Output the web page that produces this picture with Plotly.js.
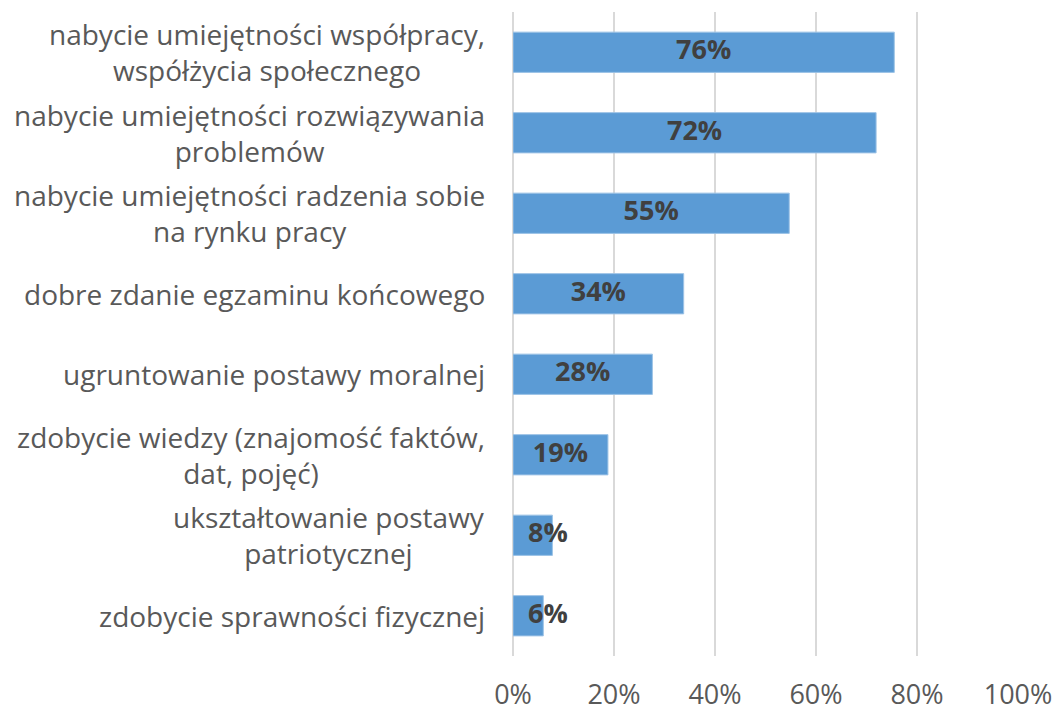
<!DOCTYPE html>
<html>
<head>
<meta charset="utf-8">
<script src="https://cdn.plot.ly/plotly-3.0.1.min.js"></script>
<style>
html,body{margin:0;padding:0;background:#fff;}
#chart{width:1056px;height:714px;}
</style>
</head>
<body>
<div id="chart"></div>
<script>
// Data
var categories = [
  "nabycie umiejętności współpracy,<br>współżycia społecznego",
  "nabycie umiejętności rozwiązywania<br>problemów",
  "nabycie umiejętności radzenia sobie<br>na rynku pracy",
  "dobre zdanie egzaminu końcowego",
  "ugruntowanie postawy moralnej",
  "zdobycie wiedzy (znajomość faktów,<br>dat, pojęć)",
  "ukształtowanie postawy<br>patriotycznej",
  "zdobycie sprawności fizycznej"
];
var values = [75.5, 71.9, 54.7, 33.8, 27.6, 18.8, 7.8, 6.0];
var tickValues = [0, 20, 40, 60, 80, 100];
var tickLabels = ["0%", "20%", "40%", "60%", "80%", "100%"];

var catIdx = categories.map(function(c, i){ return i; });
var labelText = values.map(function(v){ return Math.round(v) + "%"; });
// label sits in the middle of the bar, but never closer to the axis than a fixed minimum
var labelX = values.map(function(v){ return Math.max(v / 2, 6.9); });

var bars = {
  type: "bar",
  orientation: "h",
  x: values,
  y: catIdx,
  marker: {color: "#5B9BD5", line: {color: "#9DC3E6", width: 1}},
  hoverinfo: "skip",
  showlegend: false
};
var labels = {
  type: "scatter",
  mode: "text",
  x: labelX,
  y: catIdx,
  text: labelText,
  textposition: "middle center",
  textfont: {family: "Open Sans", size: 27, color: "#404040", weight: "bold"},
  hoverinfo: "skip",
  showlegend: false,
  cliponaxis: false
};

var annotations = categories.map(function(c, i){
  return {
    xref: "paper", yref: "y",
    x: 0, y: i,
    xanchor: "right", yanchor: "middle",
    xshift: -26,
    text: c,
    align: "center",
    showarrow: false,
    font: {family: "Open Sans", size: 28, color: "#595959"}
  };
});

var layout = {
  width: 1056, height: 714,
  margin: {l: 513, r: 38, t: 12, b: 58},
  paper_bgcolor: "#ffffff",
  plot_bgcolor: "#ffffff",
  bargap: 0.5,
  xaxis: {
    range: [0, 100],
    tickmode: "array",
    tickvals: tickValues,
    ticktext: tickLabels,
    showgrid: true,
    gridcolor: "#D9D9D9",
    gridwidth: 2,
    zeroline: true,
    zerolinecolor: "#D9D9D9",
    zerolinewidth: 2,
    showline: false,
    ticks: "",
    ticklabelstandoff: 20,
    tickfont: {family: "Open Sans", size: 27, color: "#595959"},
    fixedrange: true
  },
  yaxis: {
    range: [7.5, -0.5],
    showticklabels: false,
    showgrid: false,
    zeroline: false,
    showline: false,
    ticks: "",
    fixedrange: true
  },
  annotations: annotations,
  showlegend: false
};

Plotly.newPlot("chart", [bars, labels], layout, {displayModeBar: false, staticPlot: true});
</script>
</body>
</html>
